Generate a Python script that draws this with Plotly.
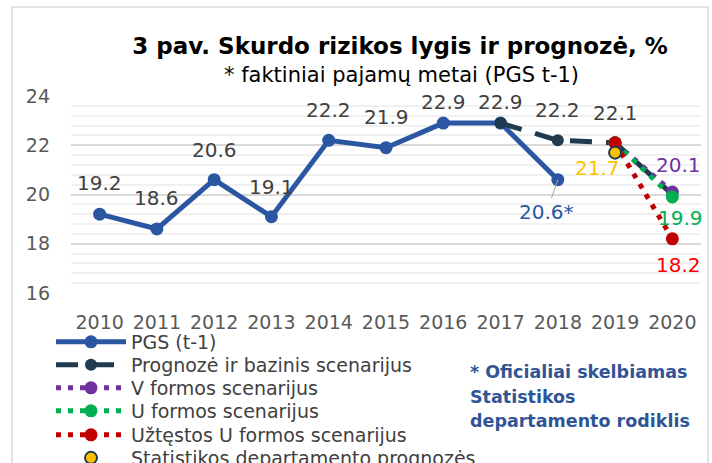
import plotly.graph_objects as go

# ---- data ----
years_pgs = [2010, 2011, 2012, 2013, 2014, 2015, 2016, 2017, 2018]
pgs_values = [19.2, 18.6, 20.6, 19.1, 22.2, 21.9, 22.9, 22.9, 20.6]

years_base = [2017, 2018, 2019, 2020]
base_values = [22.9, 22.2, 22.1, 20.0]

years_scen = [2019, 2020]
v_values = [22.1, 20.1]
u_values = [22.1, 19.9]
u_long_values = [22.1, 18.2]

years_stat = [2019]
stat_values = [21.7]

x_ticks = list(range(2010, 2021))
y_ticks = [16, 18, 20, 22, 24]

note_lines = ["* Oficialiai skelbiamas", "Statistikos", "departamento rodiklis"]

FONT = "DejaVu Sans, sans-serif"
GRAY = "#404040"
BLUE = "#2A56A2"
NAVY = "#203B4F"
PURPLE = "#7030A0"
GREEN = "#00B050"
RED = "#C00000"
YELLOW = "#FFC000"

W, H = 712, 463
L, R, T, B = 71, 11, 96, 170
pw, ph = W - L - R, H - T - B


def px(x):
    return (x - L) / pw


def py(y):
    return (H - B - y) / ph


fig = go.Figure()

fig.add_trace(go.Scatter(
    x=years_pgs, y=pgs_values, name="PGS (t-1)", mode="lines+markers",
    line=dict(color=BLUE, width=5), marker=dict(size=13, color=BLUE),
    cliponaxis=False, legend="legend"))
fig.add_trace(go.Scatter(
    x=years_base, y=base_values, name="Prognozė ir bazinis scenarijus",
    mode="lines+markers",
    line=dict(color=NAVY, width=5, dash="22px,14px"),
    marker=dict(size=12, color=NAVY), cliponaxis=False, legend="legend2"))
fig.add_trace(go.Scatter(
    x=years_scen, y=v_values, name="V formos scenarijus", mode="lines+markers",
    line=dict(color=PURPLE, width=5, dash="5px,7px"),
    marker=dict(size=13, color=PURPLE), cliponaxis=False, legend="legend3"))
fig.add_trace(go.Scatter(
    x=years_scen, y=u_values, name="U formos scenarijus", mode="lines+markers",
    line=dict(color=GREEN, width=5, dash="5px,7px"),
    marker=dict(size=13, color=GREEN), cliponaxis=False, legend="legend4"))
fig.add_trace(go.Scatter(
    x=years_scen, y=u_long_values, name="Užtęstos U formos scenarijus",
    mode="lines+markers",
    line=dict(color=RED, width=5, dash="5px,7px"),
    marker=dict(size=13, color=RED), cliponaxis=False, legend="legend5"))
fig.add_trace(go.Scatter(
    x=years_stat, y=stat_values, name="Statistikos departamento prognozės",
    mode="markers",
    marker=dict(size=12, color=YELLOW, line=dict(color=NAVY, width=2)),
    cliponaxis=False, legend="legend6"))

LBL = 20
annotations = []
pgs_shift = [31, 31, 30, 30, 30, 31, 21, 21]
for xv, yv, s in zip(years_pgs[:-1], pgs_values[:-1], pgs_shift):
    annotations.append(dict(x=xv, y=yv, text=f"{yv:.1f}", showarrow=False,
                            yshift=s, font=dict(size=LBL, color=GRAY, family=FONT)))
annotations.append(dict(x=years_pgs[-1], y=pgs_values[-1], text=f"{pgs_values[-1]:.1f}*",
                        showarrow=True, arrowhead=0, arrowwidth=1, arrowcolor="#A6A6A6",
                        ax=-11, ay=32, standoff=0,
                        font=dict(size=LBL, color=BLUE, family=FONT)))
for xv, yv in zip(years_base[1:3], base_values[1:3]):
    annotations.append(dict(x=xv, y=yv, text=f"{yv:.1f}", showarrow=False,
                            yshift=30, font=dict(size=LBL, color=GRAY, family=FONT)))
annotations.append(dict(x=years_scen[-1], y=v_values[-1], text=f"{v_values[-1]:.1f}",
                        showarrow=False, xshift=6, yshift=27,
                        font=dict(size=LBL, color=PURPLE, family=FONT)))
annotations.append(dict(x=years_scen[-1], y=u_values[-1], text=f"{u_values[-1]:.1f}",
                        showarrow=False, xshift=8, yshift=-21,
                        font=dict(size=LBL, color=GREEN, family=FONT)))
annotations.append(dict(x=years_scen[-1], y=u_long_values[-1], text=f"{u_long_values[-1]:.1f}",
                        showarrow=False, xshift=6, yshift=-26,
                        font=dict(size=LBL, color="#FF0000", family=FONT)))
annotations.append(dict(x=years_stat[0], y=stat_values[0], text=f"{stat_values[0]:.1f}",
                        showarrow=False, xshift=-18, yshift=-15,
                        font=dict(size=LBL, color=YELLOW, family=FONT)))

annotations.append(dict(xref="paper", yref="paper", x=px(401), y=py(75),
                        text="* faktiniai pajamų metai (PGS t-1)", showarrow=False,
                        xanchor="center", yanchor="middle",
                        font=dict(size=21, color="#000000", family=FONT)))
for line, ypx in zip(note_lines, [372, 397, 421]):
    annotations.append(dict(xref="paper", yref="paper", x=px(468), y=py(ypx),
                            text=f"<b>{line}</b>", showarrow=False,
                            xanchor="left", yanchor="middle", align="left",
                            font=dict(size=17.5, color="#2F5597", family=FONT)))

legend_rows = [342, 365, 388, 411, 435, 458]
legend_common = dict(xref="container", yref="container", x=51 / W,
                     xanchor="left", yanchor="middle", itemwidth=70,
                     bgcolor="rgba(0,0,0,0)",
                     font=dict(size=19, color=GRAY, family=FONT))
legend_layout = {}
for i, ypx in enumerate(legend_rows):
    key = "legend" if i == 0 else f"legend{i + 1}"
    legend_layout[key] = dict(y=1 - ypx / H, **legend_common)

fig.update_layout(
    width=W, height=H,
    margin=dict(l=L, r=R, t=T, b=B, autoexpand=False),
    paper_bgcolor="white", plot_bgcolor="white",
    font=dict(family=FONT, color=GRAY),
    title=dict(text="<b>3 pav. Skurdo rizikos lygis ir prognozė, %</b>",
               xref="container", yref="container", x=400 / W, y=1 - 46 / H,
               xanchor="center", yanchor="middle",
               font=dict(size=23, color="#000000", family=FONT)),
    xaxis=dict(range=[2009.5, 2020.5], tickvals=x_ticks, showgrid=False,
               zeroline=False, showline=False, ticks="",
               ticklabelstandoff=16,
               tickfont=dict(size=19, color="#595959", family=FONT)),
    yaxis=dict(range=[16, 24], tickvals=y_ticks, showgrid=True,
               gridcolor="#D9D9D9", gridwidth=2, zeroline=False, showline=False,
               ticks="", ticklabelstandoff=20,
               minor=dict(dtick=0.4, showgrid=True, gridcolor="#F0F0F0", gridwidth=2),
               tickfont=dict(size=19, color="#595959", family=FONT)),
    showlegend=True,
    annotations=annotations,
    shapes=[dict(type="rect", xref="paper", yref="paper",
                 x0=px(12), x1=px(708), y0=py(480), y1=py(7),
                 line=dict(color="#D9D9D9", width=1.5), fillcolor="rgba(0,0,0,0)",
                 layer="below")],
    **legend_layout,
)

fig.write_html("out.html", config={"displayModeBar": False},
               post_script="document.body.style.margin='0px';")
